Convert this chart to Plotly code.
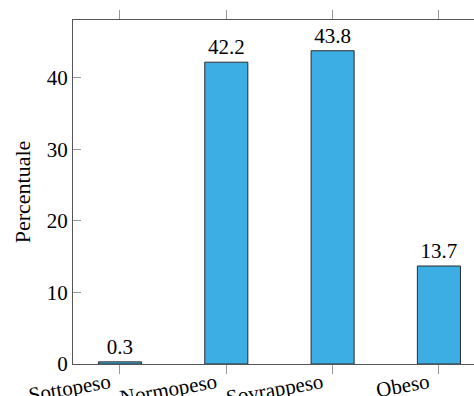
import plotly.graph_objects as go

# ── Data ──────────────────────────────────────────────────────────────────────
categories = ["Sottopeso", "Normopeso", "Sovrappeso", "Obeso"]
percentuali = [0.3, 42.2, 43.8, 13.7]
y_ticks = [0, 10, 20, 30, 40]

FONT = "Liberation Serif, serif"
BAR_COLOR = "#3caee3"
FS = 21

fig = go.Figure()

fig.add_trace(
    go.Bar(
        x=categories,
        y=percentuali,
        width=0.405,
        marker=dict(color=BAR_COLOR, line=dict(color="#2b2b2b", width=1)),
        text=[f"{v:.1f}" for v in percentuali],
        textposition="outside",
        textfont=dict(family=FONT, size=FS, color="black"),
        cliponaxis=False,
        showlegend=False,
    )
)

fig.update_layout(
    width=474,
    height=396,
    margin=dict(l=73, r=0, t=20, b=32, autoexpand=False),
    plot_bgcolor="white",
    paper_bgcolor="white",
    font=dict(family=FONT, size=FS, color="black"),
    xaxis=dict(
        type="category",
        range=[-0.442, 3.33],
        automargin=False,
        showline=True,
        linecolor="#555555",
        linewidth=1,
        mirror="ticks",
        ticks="outside",
        ticklen=9,
        tickcolor="#999999",
        tickvals=categories,
        # small trailing gap so the rotated label ends just left of its tick
        ticktext=[c + "\u2002" for c in categories],
        tickangle=-10,
        ticklabelstandoff=-13,
        showgrid=False,
        zeroline=False,
        tickfont=dict(family=FONT, size=FS, color="black"),
    ),
    yaxis=dict(
        range=[0, 48.1],
        tickvals=y_ticks,
        automargin=False,
        showline=True,
        linecolor="#555555",
        linewidth=1,
        ticks="inside",
        ticklen=8,
        tickcolor="#999999",
        showgrid=False,
        zeroline=False,
        title=dict(text="Percentuale", font=dict(family=FONT, size=22, color="black"), standoff=10),
        tickfont=dict(family=FONT, size=FS, color="black"),
    ),
)

# page body has a default 8px margin; remove it so the figure sits at 0,0
fig.write_html(
    "out.html",
    config={"displayModeBar": False},
    post_script="document.body.style.margin='0';",
)
